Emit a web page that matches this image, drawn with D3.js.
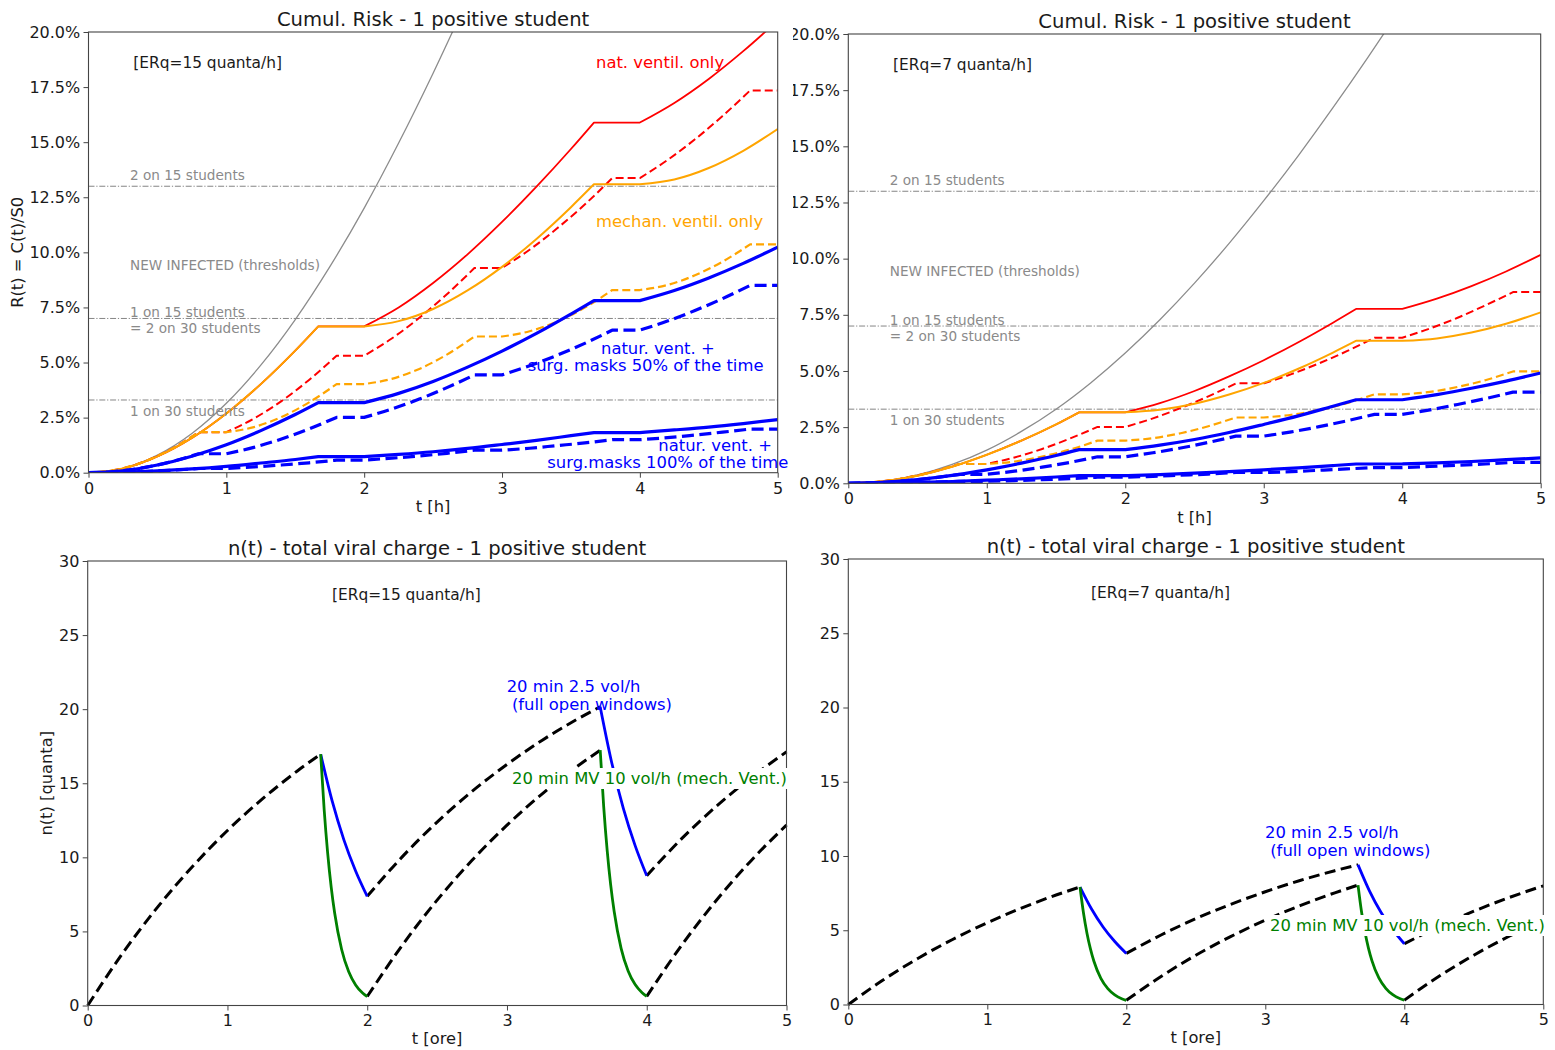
<!DOCTYPE html>
<html><head><meta charset="utf-8">
<script src="https://cdn.jsdelivr.net/npm/d3@7"></script>
<style>
body{margin:0;background:#fff;}
svg{display:block;font-family:"DejaVu Sans",sans-serif;}
</style></head><body>
<svg id="fig" width="1555" height="1050"></svg>
<script>
// ---------- time grids [h] ----------
// lesson blocks with a 20-minute break (1:40-2:00, 3:40-4:00)
const tSolid = [0,0.25,0.5,0.75,1,1.25,1.5,1.667, 2,2.25,2.5,2.75,3,3.25,3.5,3.667, 4,4.25,4.5,4.75,5];
const solidBreaks = [7,8,15,16];
// 48-minute lessons with a 12-minute break every hour
const tDashed = [0,0.2,0.4,0.6,0.8, 1,1.2,1.4,1.6,1.8, 2,2.2,2.4,2.6,2.8, 3,3.2,3.4,3.6,3.8, 4,4.2,4.4,4.6,4.8, 5];
const dashedBreaks = [4,5,9,10,14,15,19,20,24];
const tGrayL = [0,0.25,0.5,0.75,1,1.25,1.5,1.75,2,2.25,2.5,2.75,3];
const tGrayR = [0,0.25,0.5,0.75,1,1.25,1.5,1.75,2,2.25,2.5,2.75,3,3.25,3.5,3.75,4];

// ---------- cumulative risk [%], ERq = 15 quanta/h ----------
const grayL       = [0,0.20,0.80,1.78,3.15,4.88,6.95,9.34,12.01,14.96,18.13,21.5,25.0];
const redL        = [0,0.19,0.74,1.58,2.69,4.02,5.54,6.64, 6.64,7.50,8.61,9.91,11.38,12.98,14.69,15.89, 15.89,16.78,17.87,19.13,20.52];
const orangeL     = [0,0.19,0.74,1.58,2.69,4.02,5.54,6.64, 6.64,6.88,7.43,8.27,9.34,10.61,12.05,13.09, 13.09,13.31,13.83,14.61,15.60];
const blueL       = [0,0.09,0.35,0.75,1.27,1.91,2.64,3.18, 3.18,3.60,4.14,4.79,5.52,6.32,7.20,7.81, 7.81,8.27,8.84,9.50,10.24];
const blueLowL    = [0,0.02,0.08,0.17,0.29,0.44,0.60,0.73, 0.73,0.83,0.95,1.10,1.28,1.47,1.68,1.82, 1.82,1.94,2.07,2.23,2.41];
const redDashL    = [0,0.13,0.49,1.07,1.84, 1.84,2.46,3.25,4.21,5.31, 5.31,6.09,7.03,8.10,9.29, 9.29,10.12,11.09,12.17,13.37, 13.37,14.19,15.13,16.19,17.35, 17.35];
const orangeDashL = [0,0.13,0.49,1.07,1.84, 1.84,2.07,2.53,3.19,4.02, 4.02,4.26,4.71,5.36,6.18, 6.18,6.42,6.86,7.49,8.29, 8.29,8.52,8.96,9.58,10.36, 10.36];
const blueDashL   = [0,0.06,0.23,0.50,0.86, 0.86,1.15,1.53,1.99,2.51, 2.51,2.89,3.34,3.86,4.44, 4.44,4.85,5.33,5.87,6.47, 6.47,6.88,7.36,7.90,8.50, 8.50];
const blueLowDashL= [0,0.01,0.05,0.11,0.19, 0.19,0.26,0.35,0.45,0.57, 0.57,0.66,0.76,0.88,1.02, 1.02,1.11,1.23,1.35,1.50, 1.50,1.59,1.71,1.84,1.98, 1.98];

// ---------- cumulative risk [%], ERq = 7 quanta/h ----------
const grayR       = [0,0.09,0.37,0.84,1.48,2.31,3.30,4.47,5.80,7.28,8.91,10.68,12.58,14.59,16.72,18.94,21.25];
const redR        = [0,0.09,0.34,0.74,1.27,1.90,2.62,3.16, 3.16,3.57,4.11,4.76,5.48,6.28,7.15,7.76, 7.76,8.22,8.78,9.43,10.17];
const orangeR     = [0,0.09,0.34,0.74,1.27,1.90,2.62,3.16, 3.16,3.27,3.54,3.95,4.47,5.10,5.82,6.34, 6.34,6.45,6.71,7.10,7.61];
const blueR       = [0,0.04,0.16,0.35,0.60,0.90,1.24,1.50, 1.50,1.70,1.95,2.26,2.62,3.00,3.43,3.72, 3.72,3.95,4.23,4.55,4.91];
const blueLowR    = [0,0.01,0.04,0.08,0.14,0.20,0.28,0.34, 0.34,0.39,0.45,0.52,0.60,0.69,0.79,0.86, 0.86,0.91,0.97,1.05,1.13];
const redDashR    = [0,0.06,0.23,0.50,0.86, 0.86,1.15,1.53,1.99,2.51, 2.51,2.89,3.35,3.87,4.45, 4.45,4.86,5.34,5.88,6.48, 6.48,6.89,7.37,7.92,8.51, 8.51];
const orangeDashR = [0,0.06,0.23,0.50,0.86, 0.86,0.97,1.19,1.50,1.90, 1.90,2.01,2.23,2.54,2.93, 2.93,3.05,3.26,3.57,3.96, 3.96,4.07,4.29,4.59,4.98, 4.98];
const blueDashR   = [0,0.03,0.11,0.23,0.40, 0.40,0.54,0.72,0.93,1.18, 1.18,1.36,1.57,1.82,2.10, 2.10,2.29,2.52,2.78,3.07, 3.07,3.27,3.51,3.77,4.06, 4.06];
const blueLowDashR= [0,0.01,0.02,0.05,0.09, 0.09,0.12,0.16,0.21,0.27, 0.27,0.31,0.36,0.41,0.48, 0.48,0.52,0.58,0.64,0.70, 0.70,0.75,0.80,0.86,0.93, 0.93];

// threshold levels [%]
const thresholds = [3.3, 7.0, 13.0];
const riskTicks = [0,2.5,5,7.5,10,12.5,15,17.5,20];
const hourTicks = [0,1,2,3,4,5];
const quantaTicks = [0,5,10,15,20,25,30];

// ---------- viral load n(t) [quanta] ----------
const tRise1 = [0,0.25,0.5,0.75,1,1.25,1.5,1.667];
const tRise2 = [2,2.25,2.5,2.75,3,3.25,3.5,3.667];
const tRise3 = [4,4.25,4.5,4.75,5];
const tNat1  = [1.667,1.75,1.833,1.917,2.0];
const tNat2  = [3.667,3.75,3.833,3.917,4.0];
const tMech1 = [1.667,1.692,1.717,1.742,1.767,1.817,1.867,1.917,1.967,2.0];
const tMech2 = [3.667,3.692,3.717,3.742,3.767,3.817,3.867,3.917,3.967,4.0];

const rise1L     = [0,3.53,6.64,9.38,11.81,13.94,15.83,16.96];
const rise2NatL  = [7.37,10.03,12.38,14.45,16.27,17.89,19.31,20.16];
const rise2MechL = [0.605,4.06,7.11,9.80,12.17,14.27,16.12,17.23];
const rise3NatL  = [8.76,11.26,13.46,15.40,17.12];
const rise3MechL = [0.615,4.07,7.12,9.81,12.18];
const nat1L  = [16.96,13.77,11.18,9.08,7.37];
const nat2L  = [20.16,16.37,13.29,10.79,8.76];
const mech1L = [16.96,13.21,10.29,8.01,6.24,3.78,2.29,1.39,0.84,0.605];
const mech2L = [17.23,13.42,10.45,8.14,6.34,3.84,2.33,1.41,0.86,0.615];

const rise1R     = [0,1.65,3.10,4.38,5.51,6.51,7.39,7.91];
const rise2NatR  = [3.44,4.68,5.78,6.74,7.59,8.35,9.01,9.41];
const rise2MechR = [0.28,1.89,3.32,4.57,5.68,6.66,7.52,8.04];
const rise3NatR  = [4.09,5.25,6.28,7.19,7.99];
const rise3MechR = [0.29,1.90,3.32,4.58,5.68];
const nat1R  = [7.91,6.43,5.22,4.24,3.44];
const nat2R  = [9.41,7.64,6.20,5.04,4.09];
const mech1R = [7.91,6.16,4.80,3.74,2.91,1.76,1.07,0.65,0.39,0.28];
const mech2R = [8.04,6.26,4.88,3.80,2.96,1.79,1.09,0.66,0.40,0.29];

// ---------- drawing ----------
const svg = d3.select("#fig");
const defs = svg.append("defs");
const TXT = "#1a1a1a", GRAYTXT = "#8a8a8a", SPINE = "#444";
let clipCount = 0;

function clipRect(x, y, w, h) {
  const id = "clip" + (clipCount++);
  defs.append("clipPath").attr("id", id).append("rect")
    .attr("x", x).attr("y", y).attr("width", w).attr("height", h);
  return `url(#${id})`;
}

// one continuous path through pieces split at the given indices
function piecewisePath(x, y, ts, vs, cuts) {
  const line = d3.line().x(d => x(d[0])).y(d => y(d[1])).curve(d3.curveMonotoneX);
  const bounds = [0, ...cuts, ts.length - 1];
  let d = "";
  for (let i = 0; i < bounds.length - 1; i++) {
    const pts = d3.range(bounds[i], bounds[i + 1] + 1).map(k => [ts[k], vs[k]]);
    let seg = line(pts);
    if (i > 0) seg = "L" + seg.slice(1);
    d += seg;
  }
  return d;
}

function frameAndAxes(g, x, y, yTicks, yFmt, cfg) {
  const xAxis = d3.axisBottom(x).tickValues(hourTicks).tickFormat(d3.format("d"))
    .tickSize(5).tickPadding(4.6);
  const yAxis = d3.axisLeft(y).tickValues(yTicks).tickFormat(yFmt)
    .tickSize(5).tickPadding(3.3);
  const ax = g.append("g").attr("transform", `translate(0,${cfg.yb})`).call(xAxis);
  const ay = g.append("g").attr("transform", `translate(${cfg.x0},0)`).call(yAxis);
  [ax, ay].forEach(a => {
    a.select(".domain").remove();
    a.selectAll(".tick line").attr("stroke", SPINE).attr("stroke-width", 1);
    a.selectAll(".tick text").attr("fill", TXT).style("font-size", "16px")
      .style("font-family", '"DejaVu Sans", sans-serif');
  });
  g.append("rect").attr("x", cfg.x0).attr("y", cfg.yt)
    .attr("width", cfg.x1 - cfg.x0).attr("height", cfg.yb - cfg.yt)
    .attr("fill", "none").attr("stroke", SPINE).attr("stroke-width", 1.1);
}

function text(g, x, y, s, size, fill, anchor) {
  return g.append("text").attr("x", x).attr("y", y).text(s)
    .attr("fill", fill).style("font-size", size + "px")
    .attr("text-anchor", anchor || "start");
}

function riskPanel(cfg, S) {
  const root = svg.append("g");
  if (cfg.clipLeft) root.attr("clip-path", clipRect(cfg.clipLeft, 0, 1555 - cfg.clipLeft, 540));
  const x = d3.scaleLinear().domain([0, 5]).range([cfg.x0, cfg.x1]);
  const y = d3.scaleLinear().domain([0, 20]).range([cfg.yb, cfg.yt]);
  const plot = root.append("g").attr("clip-path", clipRect(cfg.x0, cfg.yt, cfg.x1 - cfg.x0, cfg.yb - cfg.yt));

  thresholds.forEach(v => plot.append("line")
    .attr("x1", cfg.x0).attr("x2", cfg.x1).attr("y1", y(v)).attr("y2", y(v))
    .attr("stroke", "#777").attr("stroke-width", 0.9).attr("stroke-dasharray", "6,1.8,1.2,1.8"));

  const draw = (ts, vs, cuts, color, w, dash) => {
    const p = plot.append("path").attr("d", piecewisePath(x, y, ts, vs, cuts))
      .attr("fill", "none").attr("stroke", color).attr("stroke-width", w)
      .attr("stroke-linejoin", "round");
    if (dash) p.attr("stroke-dasharray", dash);
  };
  draw(S.tGray, S.gray, [], "#8c8c8c", 1.3);
  draw(tSolid, S.red, solidBreaks, "#ff0000", 1.8);
  draw(tDashed, S.redDash, dashedBreaks, "#ff0000", 2.0, "8,4");
  draw(tSolid, S.orange, solidBreaks, "#ffa500", 2.0);
  draw(tDashed, S.orangeDash, dashedBreaks, "#ffa500", 2.2, "8,4");
  draw(tSolid, S.blue, solidBreaks, "#0000ff", 3.2);
  draw(tDashed, S.blueDash, dashedBreaks, "#0000ff", 3.2, "12,5.5");
  draw(tSolid, S.blueLow, solidBreaks, "#0000ff", 3.2);
  draw(tDashed, S.blueLowDash, dashedBreaks, "#0000ff", 3.2, "12,5.5");

  frameAndAxes(root, x, y, riskTicks, v => d3.format(".1f")(v) + "%", cfg);

  text(root, (cfg.x0 + cfg.x1) / 2, cfg.yt - 6, "Cumul. Risk - 1 positive student", 19.6, TXT, "middle");
  text(root, (cfg.x0 + cfg.x1) / 2, cfg.yb + 39.5, "t [h]", 16.3, TXT, "middle");
  if (cfg.ylabel) {
    root.append("text").attr("transform", `translate(${cfg.x0 - 66},${(cfg.yt + cfg.yb) / 2}) rotate(-90)`)
      .attr("text-anchor", "middle").attr("fill", TXT).style("font-size", "16.3px").text(cfg.ylabel);
  }
  const lx = cfg.x0 + 41.5;
  text(root, cfg.x0 + 44.8, cfg.yt + 35.5, cfg.erq, 15.4, TXT);
  text(root, lx, y(13.0) - 6, "2 on 15 students", 13.6, GRAYTXT);
  text(root, lx, y(9.3) + 2, "NEW INFECTED (thresholds)", 13.6, GRAYTXT);
  text(root, lx, y(7.0) - 1.3, "1 on 15 students", 13.6, GRAYTXT);
  text(root, lx, y(7.0) + 14.5, "= 2 on 30 students", 13.6, GRAYTXT);
  text(root, lx, y(3.3) + 16, "1 on 30 students", 13.6, GRAYTXT);
  (cfg.notes || []).forEach(n => text(root, n[0], n[1], n[2], 16.4, n[3]));
}

riskPanel({x0: 88.5, x1: 777.7, yt: 32, yb: 472.7, ylabel: "R(t) = C(t)/S0", erq: "[ERq=15 quanta/h]",
  notes: [
    [596, 67.5, "nat. ventil. only", "#ff0000"],
    [596, 227, "mechan. ventil. only", "#ffa500"],
    [601, 354, "natur. vent. +", "#0000ff"],
    [527.7, 370.5, "surg. masks 50% of the time", "#0000ff"],
    [658.3, 451, "natur. vent. +", "#0000ff"],
    [547.3, 467.5, "surg.masks 100% of the time", "#0000ff"]
  ]},
  {tGray: tGrayL, gray: grayL, red: redL, orange: orangeL, blue: blueL, blueLow: blueLowL,
   redDash: redDashL, orangeDash: orangeDashL, blueDash: blueDashL, blueLowDash: blueLowDashL});

riskPanel({x0: 848.3, x1: 1540.7, yt: 34, yb: 483.3, clipLeft: 793, erq: "[ERq=7 quanta/h]"},
  {tGray: tGrayR, gray: grayR, red: redR, orange: orangeR, blue: blueR, blueLow: blueLowR,
   redDash: redDashR, orangeDash: orangeDashR, blueDash: blueDashR, blueLowDash: blueLowDashR});

function loadPanel(cfg, S) {
  const root = svg.append("g");
  const x = d3.scaleLinear().domain([0, 5]).range([cfg.x0, cfg.x1]);
  const y = d3.scaleLinear().domain([0, 30]).range([cfg.yb, cfg.yt]);
  const plot = root.append("g").attr("clip-path", clipRect(cfg.x0 - 2, cfg.yt, cfg.x1 - cfg.x0 + 4, cfg.yb - cfg.yt + 2));
  const line = d3.line().x(d => x(d[0])).y(d => y(d[1])).curve(d3.curveMonotoneX);
  const zip = (ts, vs) => ts.map((t, i) => [t, vs[i]]);
  const path = (ts, vs, color, w, dash) => {
    const p = plot.append("path").attr("d", line(zip(ts, vs))).attr("fill", "none")
      .attr("stroke", color).attr("stroke-width", w);
    if (dash) p.attr("stroke-dasharray", dash);
  };
  [[tRise1, S.rise1], [tRise2, S.rise2Nat], [tRise2, S.rise2Mech], [tRise3, S.rise3Nat], [tRise3, S.rise3Mech]]
    .forEach(([ts, vs]) => path(ts, vs, "#000", 3.0, "11,5.5"));
  path(tNat1, S.nat1, "#0000ff", 2.8);
  path(tNat2, S.nat2, "#0000ff", 2.8);
  path(tMech1, S.mech1, "#008000", 2.8);
  path(tMech2, S.mech2, "#008000", 2.8);

  frameAndAxes(root, x, y, quantaTicks, d3.format("d"), cfg);
  text(root, (cfg.x0 + cfg.x1) / 2, cfg.yt - 6, "n(t) - total viral charge - 1 positive student", 19.6, TXT, "middle");
  text(root, (cfg.x0 + cfg.x1) / 2, cfg.yb + 38, "t [ore]", 16.3, TXT, "middle");
  if (cfg.ylabel) {
    root.append("text").attr("transform", `translate(${cfg.x0 - 36},${(cfg.yt + cfg.yb) / 2}) rotate(-90)`)
      .attr("text-anchor", "middle").attr("fill", TXT).style("font-size", "16.3px").text(cfg.ylabel);
  }
  text(root, cfg.erqX, cfg.yt + 39, cfg.erq, 15.4, TXT);
  text(root, cfg.natX, cfg.natY, "20 min 2.5 vol/h", 16.4, "#0000ff");
  text(root, cfg.natX, cfg.natY + 17.5, "\u00a0(full open windows)", 16.4, "#0000ff");
  const gBox = root.append("g");
  const mt = text(gBox, cfg.mechX, cfg.mechY, "20 min MV 10 vol/h (mech. Vent.)", 16.4, "#008000");
  const bb = mt.node().getBBox();
  gBox.insert("rect", "text").attr("x", bb.x - 2).attr("y", bb.y - 1)
    .attr("width", bb.width + 4).attr("height", bb.height + 2).attr("fill", "#fff");
}

loadPanel({x0: 87.7, x1: 786.5, yt: 561, yb: 1005.5, ylabel: "n(t) [quanta]", erq: "[ERq=15 quanta/h]",
  erqX: 332, natX: 506.7, natY: 692, mechX: 512, mechY: 784},
  {rise1: rise1L, rise2Nat: rise2NatL, rise2Mech: rise2MechL, rise3Nat: rise3NatL, rise3Mech: rise3MechL,
   nat1: nat1L, nat2: nat2L, mech1: mech1L, mech2: mech2L});

loadPanel({x0: 848.3, x1: 1543.3, yt: 559, yb: 1004.5, erq: "[ERq=7 quanta/h]",
  erqX: 1091, natX: 1265, natY: 838, mechX: 1270, mechY: 931},
  {rise1: rise1R, rise2Nat: rise2NatR, rise2Mech: rise2MechR, rise3Nat: rise3NatR, rise3Mech: rise3MechR,
   nat1: nat1R, nat2: nat2R, mech1: mech1R, mech2: mech2R});
</script>
</body></html>
